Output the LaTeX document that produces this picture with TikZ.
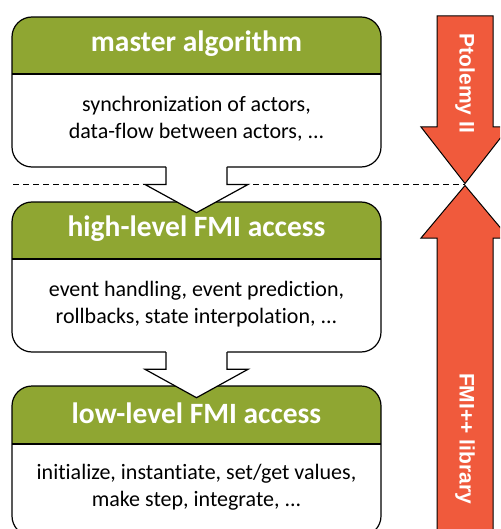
\documentclass[tikz,border=0pt]{standalone}
\usepackage{fontspec}
\setmainfont{Carlito}[Ligatures=NoCommon]
\newfontfamily\arrowfont{Liberation Sans}
\definecolor{boxgreen}{RGB}{143,166,50}
\definecolor{layerred}{RGB}{240,90,60}

\tikzset{
  frameline/.style={draw=black, line width=1.2pt},
  titletext/.style={text=white, font=\fontsize{29.5}{33}\selectfont\bfseries},
  bodytext/.style={text=black, align=center, font=\fontsize{22}{27}\selectfont},
  layerarrow/.style={fill=layerred, draw=black, line width=1pt, line join=miter},
  layertext/.style={text=white, rotate=-90, font=\arrowfont\bfseries\fontsize{21}{24}\selectfont},
  flowfill/.style={fill=white},
  flowline/.style={draw=black, line width=1.2pt, line join=miter},
  boundary/.style={draw=black, line width=1pt, dash pattern=on 6pt off 4pt}
}

% layer box: #1 top, #2 header bottom, #3 bottom
\newcommand\layerbox[3]{%
  \fill[white, rounded corners=20pt] (12,#1) rectangle (381,#3);
  \begin{scope}
    \clip[rounded corners=20pt] (12,#1) rectangle (381,#3);
    \fill[boxgreen] (12,#1) rectangle (381,#2);
  \end{scope}
  \draw[frameline] (12,#2) -- (381,#2);
  \draw[frameline, rounded corners=20pt] (12,#1) rectangle (381,#3);
}

% downward block arrow: #1 stem top, #2 head base, #3 tip
\newcommand\flowarrow[3]{%
  \fill[flowfill] (166,#1-6) -- (166,#2) -- (145,#2) -- (196.5,#3) -- (248,#2) -- (227,#2) -- (227,#1-6) -- cycle;
  \draw[flowline] (166,#1) -- (166,#2) -- (145,#2) -- (196.5,#3) -- (248,#2) -- (227,#2) -- (227,#1);
}

\begin{document}
\begin{tikzpicture}[x=1pt, y=-1pt]
\useasboundingbox (0,0) rectangle (500,529);
\clip (0,0) rectangle (500,529);

% boundary between Ptolemy II and the FMI++ library
\coordinate (bl) at (13,184.5);
\coordinate (br) at (465,184.5);
\draw[boundary] (bl) -- (br);

% the three layers
\layerbox{17}{74}{167}
\layerbox{202}{259}{352}
\layerbox{386}{444}{536}

\node[titletext] (t1) at (196.5,44) {master algorithm};
\node[bodytext]  (b1) at (196.5,119) {synchronization of actors,\\data-flow between actors, {.}{.}{.}};
\node[titletext] (t2) at (196.5,229) {high-level FMI access};
\node[bodytext]  (b2) at (196.5,304) {event handling, event prediction,\\rollbacks, state interpolation, {.}{.}{.}};
\node[titletext] (t3) at (196.5,413) {low-level FMI access};
\node[bodytext]  (b3) at (196.5,487) {initialize, instantiate, set/get values,\\make step, integrate, {.}{.}{.}};

% flow between layers
\flowarrow{167}{184.5}{212.7}
\flowarrow{352}{369.3}{397.7}

% side arrows
\draw[layerarrow] (437,16) -- (493,16) -- (493,127) -- (509,127) -- (465,183.5)
  -- (421,127) -- (437,127) -- cycle;
\draw[layerarrow] (437,545) -- (437,238) -- (421,238) -- (465,185.5)
  -- (509,238) -- (493,238) -- (493,545) -- cycle;
\node[layertext] (ptolemy) at (465,83.5) {Ptolemy II};
\node[layertext] (fmipp) at (465,438.5) {FMI++ library};
\end{tikzpicture}
\end{document}
